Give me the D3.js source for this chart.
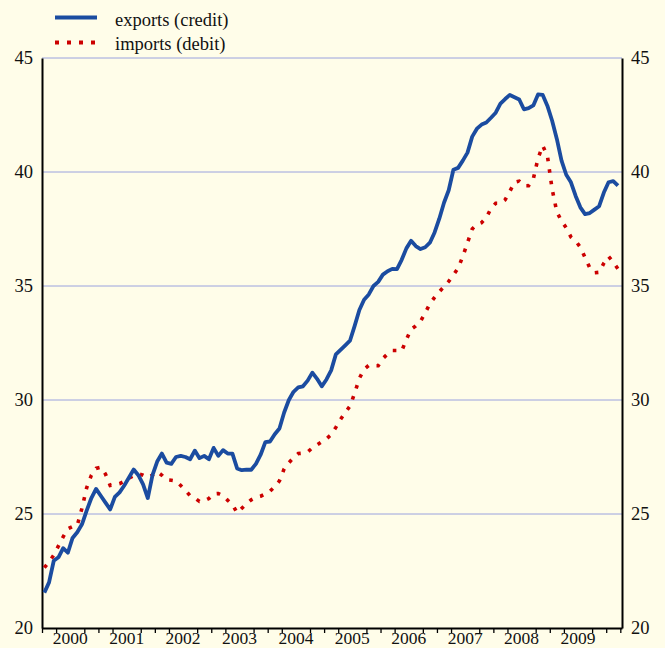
<!DOCTYPE html>
<html>
<head>
<meta charset="utf-8">
<script src="https://cdn.jsdelivr.net/npm/d3@7"></script>
<style>
  html, body { margin: 0; padding: 0; background: #fffde9; }
  svg { display: block; }
  svg text { font-family: "Liberation Serif", "Times New Roman", Times, "DejaVu Serif", serif !important; fill: #111; }
</style>
</head>
<body>
<svg id="chart" width="665" height="648"></svg>
<script>
// monthly series, Jan 2000 .. Mar 2010
var exportsCredit = [
  21.55, 22.0, 22.95, 23.1, 23.5, 23.3, 23.95, 24.2, 24.55, 25.15, 25.7, 26.1,
  25.8, 25.5, 25.2, 25.75, 25.95, 26.25, 26.6, 26.95, 26.7, 26.3, 25.7, 26.7,
  27.3, 27.65, 27.25, 27.2, 27.5, 27.55, 27.5, 27.4, 27.78, 27.45, 27.55, 27.4,
  27.9, 27.55, 27.8, 27.65, 27.65, 27.0, 26.92, 26.95, 26.94, 27.2, 27.6, 28.15,
  28.18, 28.5, 28.75, 29.45, 30.0, 30.36, 30.55, 30.6, 30.85, 31.2, 30.93, 30.6,
  30.9, 31.3, 32.0, 32.2, 32.4, 32.6, 33.25, 33.95, 34.4, 34.63, 35.0, 35.18,
  35.5, 35.65, 35.75, 35.74, 36.15, 36.65, 36.98, 36.75, 36.62, 36.7, 36.9, 37.35,
  37.95, 38.65, 39.2, 40.1, 40.18, 40.5, 40.85, 41.55, 41.9, 42.08, 42.17, 42.38,
  42.6, 43.0, 43.2, 43.38, 43.28, 43.18, 42.75, 42.8, 42.92, 43.4, 43.38, 42.9,
  42.25, 41.45, 40.5, 39.88, 39.55, 38.95, 38.45, 38.15, 38.2, 38.35, 38.5, 39.1,
  39.55, 39.6, 39.4
];
var importsDebit = [
  22.65, 22.9, 23.2, 23.6, 24.0, 24.35, 24.45, 24.5, 25.25, 26.15, 26.7, 27.0,
  27.05, 26.75, 26.25, 26.28, 26.33, 26.43, 26.58, 26.68, 26.76, 26.7, 26.6, 26.7,
  26.86, 26.7, 26.5, 26.48, 26.45, 26.25, 26.05, 25.8, 25.7, 25.55, 25.58, 25.68,
  25.88, 25.9, 25.8, 25.6, 25.42, 25.05, 25.25, 25.45, 25.62, 25.73, 25.78, 25.88,
  26.0, 26.2, 26.45, 26.98, 27.25, 27.47, 27.65, 27.67, 27.72, 27.9, 28.03, 28.17,
  28.3, 28.48, 28.8, 29.15, 29.45, 29.73, 30.3, 30.95, 31.35, 31.52, 31.5, 31.5,
  31.82, 32.02, 32.17, 32.17, 32.15, 32.65, 33.1, 33.25, 33.45, 33.82, 34.22, 34.5,
  34.75, 34.97, 35.2, 35.48, 35.78, 36.3, 36.9, 37.5, 37.7, 37.78, 38.0, 38.4,
  38.63, 38.63, 38.78, 39.15, 39.55, 39.6, 39.4, 39.4, 39.7, 40.6, 41.15, 40.7,
  39.25, 38.25, 37.85, 37.55, 37.15, 36.98, 36.7, 36.25, 35.8, 35.58, 35.6, 36.0,
  36.3, 36.05, 35.75
];
var yearLabels = ["2000", "2001", "2002", "2003", "2004", "2005", "2006", "2007", "2008", "2009"];
var yTicks = [20, 25, 30, 35, 40, 45];
var seriesNames = ["exports (credit)", "imports (debit)"];

var firstYear = 2000;
var serif = "'Liberation Serif', 'Times New Roman', Times, 'DejaVu Serif', serif";

var svg = d3.select("#chart"),
    margin = {top: 58, right: 43, bottom: 20, left: 42},
    width = +svg.attr("width") - margin.left - margin.right,
    height = +svg.attr("height") - margin.top - margin.bottom;

var xScale = d3.scaleLinear().domain([2000, 2010.28]).range([0, width]),
    yScale = d3.scaleLinear().domain([20, 45]).range([height, 0]);

var g = svg.append("g")
    .attr("transform", "translate(" + margin.left + "," + margin.top + ")");

// month index -> fractional year (mid month)
function monthTime(i) { return firstYear + (i + 0.5) / 12; }

// gridlines
g.append("g")
  .attr("class", "grid")
  .selectAll("line")
  .data(yTicks.filter(function(d) { return d > 20; }))
  .enter().append("line")
  .attr("x1", 0)
  .attr("x2", width)
  .attr("y1", function(d) { return yScale(d); })
  .attr("y2", function(d) { return yScale(d); })
  .attr("stroke", "#9aa2de")
  .attr("stroke-width", 1);

// quarter ticks on the bottom axis (no tick at mid year, the label sits there)
var quarterTicks = [];
for (var q = 2000; q <= 2010.25; q += 0.25) {
  if (Math.abs(q % 1 - 0.5) > 0.01) quarterTicks.push(q);
}

g.append("g")
  .attr("transform", "translate(0," + height + ")")
  .call(d3.axisBottom(xScale).tickValues(quarterTicks).tickFormat("").tickSize(5).tickSizeOuter(0))
  .call(function(a) {
    a.select(".domain").attr("stroke", "#000").attr("stroke-width", 2);
    a.selectAll(".tick line").attr("stroke", "#000").attr("stroke-width", 1.3);
  });

g.append("g")
  .selectAll("text")
  .data(yearLabels)
  .enter().append("text")
  .attr("x", function(d) { return xScale(+d + 0.5); })
  .attr("y", height + 16)
  .attr("text-anchor", "middle")
  .attr("font-family", serif)
  .attr("font-size", "17.5px")
  .text(function(d) { return d; });

// left and right axes
g.append("g")
  .call(d3.axisLeft(yScale).tickValues(yTicks).tickSize(0).tickPadding(9))
  .attr("font-family", serif)
  .call(function(a) {
    a.select(".domain").attr("stroke", "#000").attr("stroke-width", 2);
    a.selectAll("text").attr("font-size", "18.5px").attr("fill", "#111");
  });

g.append("g")
  .attr("transform", "translate(" + width + ",0)")
  .call(d3.axisRight(yScale).tickValues(yTicks).tickSize(0).tickPadding(9))
  .attr("font-family", serif)
  .call(function(a) {
    a.select(".domain").attr("stroke", "#000").attr("stroke-width", 2);
    a.selectAll("text").attr("font-size", "18.5px").attr("fill", "#111");
  });

// lines
var line = d3.line()
    .x(function(d, i) { return xScale(monthTime(i)); })
    .y(function(d) { return yScale(d); });

g.append("path")
  .datum(importsDebit)
  .attr("fill", "none")
  .attr("stroke", "#cc0000")
  .attr("stroke-width", 3.6)
  .attr("stroke-dasharray", "3.6,8")
  .attr("d", line);

g.append("path")
  .datum(exportsCredit)
  .attr("fill", "none")
  .attr("stroke", "#1b4ca0")
  .attr("stroke-width", 3.8)
  .attr("stroke-linejoin", "round")
  .attr("d", line);

// legend
var legend = svg.append("g");
legend.append("line")
  .attr("x1", 55).attr("x2", 97).attr("y1", 17.5).attr("y2", 17.5)
  .attr("stroke", "#1b4ca0").attr("stroke-width", 4);
legend.append("line")
  .attr("x1", 55).attr("x2", 97).attr("y1", 42.5).attr("y2", 42.5)
  .attr("stroke", "#cc0000").attr("stroke-width", 4)
  .attr("stroke-dasharray", "4,8");
legend.selectAll("text")
  .data(seriesNames)
  .enter().append("text")
  .attr("x", 115)
  .attr("y", function(d, i) { return 26 + i * 24; })
  .attr("font-family", serif)
  .attr("font-size", "18.5px")
  .text(function(d) { return d; });
</script>
</body>
</html>
